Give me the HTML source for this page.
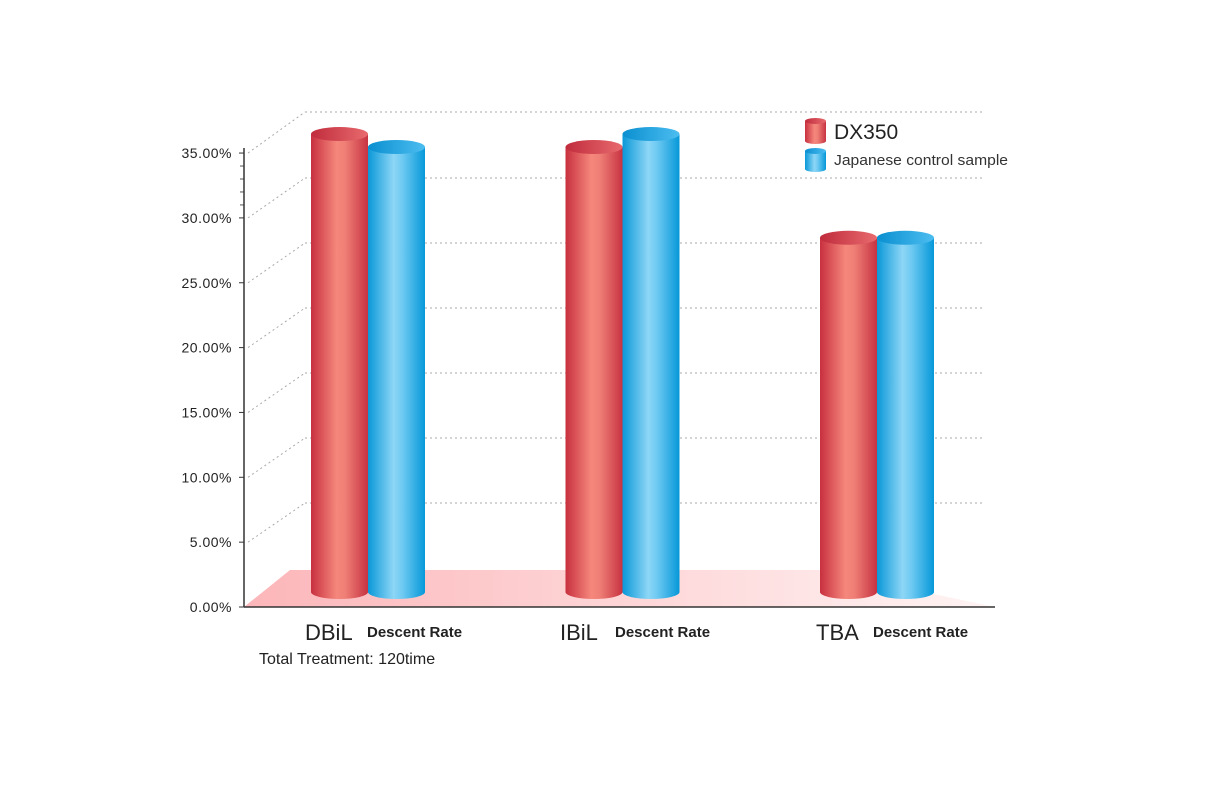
<!DOCTYPE html>
<html><head><meta charset="utf-8"><style>
body{margin:0;background:#fff;}
svg{display:block;font-family:"Liberation Sans",sans-serif;}
</style></head><body>
<svg id="chart" width="1213" height="808" viewBox="0 0 1213 808">
<defs>
<linearGradient id="red" x1="0" x2="1" y1="0" y2="0">
<stop offset="0" stop-color="#c8303f"/><stop offset="0.45" stop-color="#f5877c"/><stop offset="0.6" stop-color="#ef7f76"/><stop offset="1" stop-color="#c73342"/></linearGradient>
<linearGradient id="blue" x1="0" x2="1" y1="0" y2="0">
<stop offset="0" stop-color="#0a98d8"/><stop offset="0.45" stop-color="#8dd6f6"/><stop offset="0.6" stop-color="#6fcaf2"/><stop offset="1" stop-color="#0698d9"/></linearGradient>
<linearGradient id="redtop" x1="0" x2="1"><stop offset="0" stop-color="#c02c3c"/><stop offset="1" stop-color="#e86a6e"/></linearGradient>
<linearGradient id="bluetop" x1="0" x2="1"><stop offset="0" stop-color="#0a8fd0"/><stop offset="1" stop-color="#4cbdf0"/></linearGradient>
<linearGradient id="floor" x1="0" x2="1"><stop offset="0" stop-color="#fcb6b9"/><stop offset="1" stop-color="#fff4f4"/></linearGradient>
</defs>
<g id="grid"></g>
<polygon points="244,607 290,570 820,570 995,607" fill="url(#floor)"/>
<g id="axis"></g>
<g id="bars"></g>
<g fill="#222">
<text x="305" y="640" font-size="22">DBiL</text>
<text x="367" y="637" font-size="15" font-weight="bold">Descent Rate</text>
<text x="560" y="640" font-size="22">IBiL</text>
<text x="615" y="637" font-size="15" font-weight="bold">Descent Rate</text>
<text x="816" y="640" font-size="22">TBA</text>
<text x="873" y="637" font-size="15" font-weight="bold">Descent Rate</text>
<text x="259" y="664" font-size="16">Total Treatment: 120time</text>
</g>
<g>
<g>
<rect x="805" y="121" width="21" height="20" fill="url(#red)"/><ellipse cx="815.5" cy="121" rx="10.5" ry="3" fill="url(#redtop)"/><ellipse cx="815.5" cy="141" rx="10.5" ry="3" fill="url(#red)"/>
<text x="834" y="139" font-size="21" fill="#222">DX350</text></g>
<g>
<rect x="805" y="151" width="21" height="18" fill="url(#blue)"/><ellipse cx="815.5" cy="151" rx="10.5" ry="3" fill="url(#bluetop)"/><ellipse cx="815.5" cy="169" rx="10.5" ry="3" fill="url(#blue)"/>
<text x="834" y="165" font-size="15" fill="#333" textLength="174" lengthAdjust="spacingAndGlyphs">Japanese control sample</text></g>
</g>
</svg>
<script>
const categories=["DBiL","IBiL","TBA"];
const dx350=[35,34,27];
const japanese=[34,35,27];
const tickLabels=["0.00%","5.00%","10.00%","15.00%","20.00%","25.00%","30.00%","35.00%"];
const tickValues=[0,5,10,15,20,25,30,35];
const NS="http://www.w3.org/2000/svg";
function yAxis(v){return 607-v*12.97;}
function yBack(v){return 568-v*13.0;}
function yBar(v){return 588-v*12.97;}
function xGroup(i){return 368+i*254.5;}
function mk(tag,attrs,parent){const e=document.createElementNS(NS,tag);for(const k in attrs)e.setAttribute(k,attrs[k]);parent.appendChild(e);return e;}
const grid=document.getElementById('grid'),axis=document.getElementById('axis'),bars=document.getElementById('bars');
tickValues.forEach((v,i)=>{
  if(v>0){
    const l=mk('line',{x1:305,x2:985,y1:yBack(v)+ (v===35?-1:0),y2:yBack(v)+(v===35?-1:0),stroke:'#aaa','stroke-dasharray':'2,3'},grid);
    
    
    const d=mk('line',{x1:248,y1:yAxis(v),x2:305,y2:yBack(v)+(v===35?-1:0),stroke:'#aaa','stroke-dasharray':'2,3'},grid);
    
    
  }
  const t=mk('text',{x:232,y:yAxis(v)+5,'text-anchor':'end','font-size':14,fill:'#222','letter-spacing':'0.5'},axis);
  t.textContent=tickLabels[i];
  
  
  mk('line',{x1:239,x2:244,y1:yAxis(v),y2:yAxis(v),stroke:'#333'},axis);
});
for(let k=1;k<5;k++){const y=yAxis(30)+k*(yAxis(35)-yAxis(30))/5;mk('line',{x1:240,x2:244,y1:y,y2:y,stroke:'#555'},axis);}
mk('line',{x1:244,x2:244,y1:yAxis(35)-5,y2:607,stroke:'#333','stroke-width':1.5},axis);
mk('line',{x1:244,x2:995,y1:607,y2:607,stroke:'#333','stroke-width':1.5},axis);
const W=57,rx=28.5;
function cyl(x,v,fill,top,name){
  const g=mk('g',{},bars);
  
  
  const yt=yBar(v),yb=592;
  mk('path',{d:`M${x},${yt} L${x},${yb} A${rx},7 0 0 0 ${x+W},${yb} L${x+W},${yt} Z`,fill:fill},g);
  mk('ellipse',{cx:x+rx,cy:yt,rx:rx,ry:7,fill:top},g);
}
categories.forEach((c,i)=>{
  const cx=xGroup(i);
  cyl(cx-W,dx350[i],'url(#red)','url(#redtop)','bar-dx350-'+c.toLowerCase());
  cyl(cx,japanese[i],'url(#blue)','url(#bluetop)','bar-japanese-'+c.toLowerCase());
});
</script>
</body></html>
